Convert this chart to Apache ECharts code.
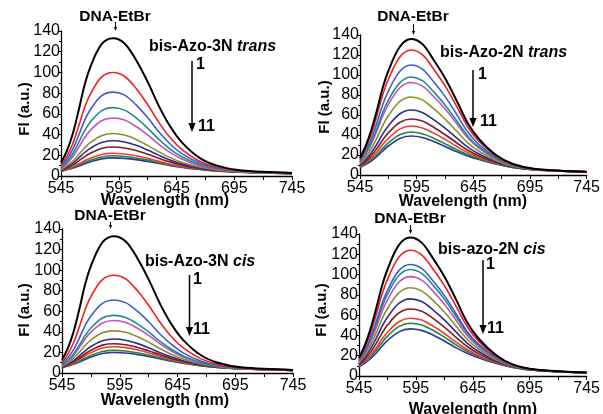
<!DOCTYPE html>
<html>
<head>
<meta charset="utf-8">
<script src="https://cdn.jsdelivr.net/npm/echarts@6/dist/echarts.min.js"></script>
<style>
html,body{margin:0;padding:0;background:#fff;}
#chart{width:603px;height:414px;}
</style>
</head>
<body>
<div id="chart"></div>
<script>
const wavelengths = [545, 550, 555, 560, 565, 570, 580, 590, 600, 610, 620, 630, 640, 650, 665, 680, 700, 745];
const xTicks = [545, 595, 645, 695, 745];
const yTicks = [0, 20, 40, 60, 80, 100, 120, 140];
const panelTitles = ['bis-Azo-3N', 'bis-Azo-2N', 'bis-Azo-3N', 'bis-azo-2N'];
const panelStates = ['trans', 'trans', 'cis', 'cis'];
const xTitle = 'Wavelength (nm)';
const yTitle = 'Fl (a.u.)';
const colors = ['#000000', '#f21f1f', '#3f5ccc', '#1f8c8c', '#c34fc3', '#8e8e2a', '#2e2e8e', '#801e1e', '#f03a3a', '#228a2e', '#2a34a2'];

const azo3nTrans = [
  [13, 24, 40, 62, 86, 104, 127, 133, 128, 112, 91, 67, 47, 32, 17.5, 10, 5.5, 3],
  [10.6, 18.9, 30.7, 47.0, 64.7, 78.1, 95.4, 100, 96.3, 84.5, 69.0, 51.3, 36.4, 25.2, 14.3, 8.5, 5.0, 2.8],
  [9.2, 15.9, 25.4, 38.4, 52.5, 63.3, 77.3, 81, 78.1, 68.7, 56.4, 42.3, 30.4, 21.3, 12.5, 7.7, 4.6, 2.7],
  [8.1, 13.6, 21.2, 31.6, 42.8, 51.5, 62.9, 66, 63.6, 56.2, 46.3, 35.1, 25.5, 18.3, 11.0, 7.0, 4.4, 2.6],
  [7.3, 12.0, 18.3, 27.0, 36.3, 43.6, 53.3, 56, 54.0, 47.8, 39.6, 30.3, 22.3, 16.2, 10.0, 6.5, 4.2, 2.5],
  [6.2, 9.7, 14.1, 20.2, 26.6, 31.9, 38.9, 41, 39.5, 35.3, 29.6, 23.2, 17.5, 13.1, 8.6, 5.9, 4.0, 2.4],
  [5.7, 8.6, 12.1, 17.0, 22.2, 26.4, 32.3, 34, 32.9, 29.6, 25.0, 19.9, 15.3, 11.7, 7.9, 5.5, 3.9, 2.4],
  [5.3, 7.6, 10.5, 14.3, 18.3, 21.7, 26.6, 28, 27.1, 24.6, 21.0, 17.0, 13.4, 10.5, 7.3, 5.3, 3.8, 2.4],
  [4.8, 6.7, 8.8, 11.5, 14.4, 17.0, 20.8, 22, 21.3, 19.6, 17.0, 14.1, 11.4, 9.2, 6.7, 5.0, 3.7, 2.3],
  [4.6, 6.3, 8.1, 10.4, 12.8, 15.0, 18.4, 19.5, 18.9, 17.4, 15.3, 12.9, 10.6, 8.7, 6.5, 4.9, 3.6, 2.3],
  [4.5, 6, 7.5, 9.5, 11.5, 13.5, 16.5, 17.5, 17, 15.8, 14, 12, 10, 8.3, 6.3, 4.8, 3.6, 2.3]
];

const azo2nTrans = [
  [17, 29, 45, 65, 87, 104, 128, 136, 131, 115, 97, 75, 52, 36, 20, 11, 6, 3.3],
  [15.9, 26.9, 41.5, 59.7, 79.9, 95.5, 117.7, 125, 120.4, 105.8, 89.3, 69.2, 48.3, 33.7, 19.0, 10.6, 5.9, 3.3],
  [14.5, 24.0, 36.7, 52.5, 70.1, 83.9, 103.5, 110, 105.9, 93.2, 78.6, 61.2, 43.2, 30.5, 17.6, 10.1, 5.7, 3.2],
  [13.3, 21.7, 32.8, 46.8, 62.3, 74.6, 92.1, 98, 94.3, 83.1, 70.1, 54.8, 39.1, 28.0, 16.5, 9.6, 5.6, 3.2],
  [12.7, 20.7, 31.1, 44.2, 58.8, 70.4, 87.0, 92.5, 89.1, 78.5, 66.3, 51.9, 37.2, 26.8, 16.0, 9.4, 5.6, 3.2],
  [11.3, 17.9, 26.5, 37.2, 49.3, 59.2, 73.3, 78, 75.1, 66.3, 56.0, 44.2, 32.3, 23.7, 14.6, 8.9, 5.4, 3.1],
  [10.0, 15.5, 22.3, 31.0, 40.9, 49.1, 61.0, 65, 62.6, 55.3, 46.9, 37.3, 27.8, 21.0, 13.4, 8.4, 5.3, 3.1],
  [9.2, 13.7, 19.4, 26.6, 35.0, 42.1, 52.5, 56, 53.9, 47.8, 40.5, 32.5, 24.8, 19.1, 12.6, 8.1, 5.2, 3.1],
  [8.5, 12.4, 17.2, 23.3, 30.5, 36.7, 45.9, 49, 47.1, 41.9, 35.6, 28.8, 22.4, 17.6, 11.9, 7.9, 5.1, 3.0],
  [7.9, 11.3, 15.3, 20.4, 26.6, 32.1, 40.3, 43, 41.3, 36.8, 31.3, 25.6, 20.4, 16.3, 11.4, 7.6, 5.0, 3.0],
  [7.5, 10.5, 14, 18.5, 24, 29, 36.5, 39, 37.5, 33.5, 28.5, 23.5, 19, 15.5, 11, 7.5, 5, 3]
];

const azo3nCis = [
  [13, 24, 40, 62, 86, 104, 127, 133, 128, 112, 91, 67, 47, 32, 17.5, 10, 5.5, 3],
  [10.3, 18.2, 29.4, 44.8, 61.5, 74.3, 90.7, 95, 91.5, 80.4, 65.8, 49.1, 35.0, 24.4, 14.0, 8.4, 5.0, 2.9],
  [8.6, 14.5, 22.7, 33.9, 46.0, 55.4, 67.7, 71, 68.4, 60.4, 49.8, 37.7, 27.5, 19.6, 11.7, 7.4, 4.7, 2.8],
  [7.6, 12.2, 18.5, 27.1, 36.4, 43.7, 53.5, 56, 54.0, 48.0, 39.9, 30.7, 22.8, 16.6, 10.3, 6.8, 4.5, 2.7],
  [7.2, 11.4, 17.1, 24.8, 33.1, 39.7, 48.6, 51, 49.2, 43.8, 36.6, 28.3, 21.2, 15.6, 9.9, 6.6, 4.4, 2.7],
  [6.5, 9.9, 14.4, 20.3, 26.7, 32.0, 39.1, 41, 39.6, 35.5, 30.0, 23.6, 18.0, 13.6, 9.0, 6.2, 4.3, 2.7],
  [5.9, 8.7, 12.1, 16.7, 21.6, 25.7, 31.4, 33, 31.9, 28.8, 24.6, 19.8, 15.5, 12.0, 8.2, 5.8, 4.2, 2.6],
  [5.6, 8.0, 10.9, 14.6, 18.7, 22.1, 27.1, 28.5, 27.5, 25.1, 21.6, 17.7, 14.1, 11.1, 7.8, 5.7, 4.1, 2.6],
  [5.4, 7.5, 10.0, 13.3, 16.8, 19.8, 24.3, 25.5, 24.7, 22.6, 19.7, 16.3, 13.1, 10.5, 7.5, 5.5, 4.1, 2.6],
  [5.1, 7.0, 9.1, 11.7, 14.5, 17.1, 20.9, 22, 21.4, 19.7, 17.4, 14.7, 12.0, 9.8, 7.2, 5.4, 4.0, 2.6],
  [5, 6.7, 8.5, 10.8, 13.2, 15.5, 19, 20, 19.4, 18, 16, 13.7, 11.4, 9.4, 7, 5.3, 4, 2.6]
];

const azo2nCis = [
  [18, 30, 46, 66, 88, 105, 129, 136.5, 131.5, 116, 98, 76, 53, 37, 21, 11.5, 6.5, 3.5],
  [16.7, 27.6, 42.0, 60.0, 79.8, 95.3, 117.1, 124, 119.5, 105.5, 89.2, 69.3, 48.8, 34.4, 19.8, 11.1, 6.4, 3.4],
  [15.4, 24.9, 37.5, 53.2, 70.7, 84.4, 103.9, 110, 106.1, 93.8, 79.3, 61.9, 44.0, 31.4, 18.5, 10.6, 6.2, 3.4],
  [14.9, 23.9, 35.9, 50.8, 67.4, 80.5, 99.1, 105, 101.2, 89.6, 75.8, 59.2, 42.3, 30.4, 18.0, 10.5, 6.2, 3.3],
  [14.1, 22.5, 33.6, 47.4, 62.7, 75.0, 92.4, 98, 94.5, 83.7, 70.8, 55.5, 39.9, 28.9, 17.4, 10.2, 6.1, 3.3],
  [13.1, 20.4, 30.1, 42.1, 55.6, 66.5, 82.0, 87, 83.9, 74.5, 63.1, 49.6, 36.2, 26.6, 16.3, 9.9, 6.0, 3.2],
  [12.0, 18.2, 26.5, 36.8, 48.4, 58.0, 71.5, 76, 73.4, 65.3, 55.3, 43.7, 32.5, 24.2, 15.3, 9.5, 5.8, 3.2],
  [11.0, 16.3, 23.3, 31.9, 41.8, 50.2, 62.1, 66, 63.8, 56.9, 48.3, 38.4, 29.1, 22.1, 14.3, 9.2, 5.7, 3.1],
  [10.1, 14.5, 20.4, 27.6, 35.9, 43.2, 53.5, 57, 55.1, 49.3, 41.9, 33.6, 26.1, 20.2, 13.5, 8.9, 5.6, 3.1],
  [9.5, 13.6, 18.8, 25.2, 32.6, 39.3, 48.7, 52, 50.3, 45.1, 38.4, 30.9, 24.4, 19.2, 13.0, 8.7, 5.6, 3.0],
  [9, 12.5, 17, 22.5, 29, 35, 43.5, 46.5, 45, 40.5, 34.5, 28, 22.5, 18, 12.5, 8.5, 5.5, 3]
];

const panels = [azo3nTrans, azo2nTrans, azo3nCis, azo2nCis];

const FONT = '"Liberation Sans", Arial, sans-serif';
const grids = [
  {left: 61, top: 31, width: 231, height: 145},
  {left: 360, top: 35, width: 230, height: 140},
  {left: 62, top: 229, width: 231, height: 144},
  {left: 359, top: 234, width: 232, height: 142}
];

const xAxes = grids.map((g, i) => ({
  type: 'value', gridIndex: i, min: xTicks[0], max: xTicks[xTicks.length - 1], interval: 50,
  axisLine: {lineStyle: {color: '#000', width: 1.3}},
  axisTick: {length: 4, lineStyle: {color: '#000', width: 1}},
  minorTick: {show: true, splitNumber: 2, length: 4, lineStyle: {color: '#000', width: 1}},
  splitLine: {show: false},
  axisLabel: {fontFamily: FONT, fontSize: 16, color: '#000', margin: 5, showMinLabel: true, showMaxLabel: true}
}));

const yAxes = grids.map((g, i) => ({
  type: 'value', gridIndex: i, min: yTicks[0], max: yTicks[yTicks.length - 1], interval: 20,
  axisLine: {show: true, lineStyle: {color: '#000', width: 1.3}},
  axisTick: {show: true, length: 3, lineStyle: {color: '#000', width: 1}},
  minorTick: {show: true, splitNumber: 2, length: 2, lineStyle: {color: '#000', width: 1}},
  splitLine: {show: false},
  axisLabel: {fontFamily: FONT, fontSize: 16, color: '#000', margin: 1}
}));

const series = [];
panels.forEach((curves, p) => {
  curves.forEach((vals, k) => {
    series.push({
      type: 'line', xAxisIndex: p, yAxisIndex: p, smooth: 0.35, symbol: 'none',
      lineStyle: {color: colors[k], width: k === 0 ? 2 : 1.6},
      z: 20 - k,
      data: wavelengths.map((w, j) => [w, vals[j]])
    });
  });
});

function txt(x, y, text, align, size, rot) {
  return {type: 'text', x: x, y: y, rotation: rot || 0, style: {text: text, fill: '#000', font: 'bold ' + (size || 15) + 'px ' + FONT, textAlign: align || 'center', textVerticalAlign: 'middle'}};
}
function titleText(x, y, name, state) {
  return {type: 'text', x: x, y: y, style: {
    text: '{b|' + name + ' }{i|' + state + '}', textAlign: 'left', textVerticalAlign: 'middle',
    rich: {b: {fontFamily: FONT, fontWeight: 'bold', fontSize: 16, fill: '#000', color: '#000'},
           i: {fontFamily: FONT, fontWeight: 'bold', fontStyle: 'italic', fontSize: 16, fill: '#000', color: '#000'}}
  }};
}
function arrow(x, y1, y2, head, w) {
  return [
    {type: 'line', shape: {x1: x, y1: y1, x2: x, y2: y2 - head + 1}, style: {stroke: '#000', lineWidth: w}},
    {type: 'polygon', shape: {points: [[x - head * 0.4, y2 - head], [x + head * 0.4, y2 - head], [x, y2]]}, style: {fill: '#000'}}
  ];
}

const ann = [
  {dna: [115, 17], arr: [115.5, 22, 31], title: [149, 47], big: [192, 61, 132], one: [196, 65], eleven: [198, 127], xt: [165, 201], yt: [25, 109]},
  {dna: [413, 17], arr: [413.5, 24, 35], title: [440, 53], big: [473, 70, 127], one: [478, 75], eleven: [480, 122], xt: [463, 202], yt: [325, 107]},
  {dna: [110, 216], arr: [110.5, 222, 229], title: [145, 262], big: [189.5, 275, 336], one: [193, 280], eleven: [193, 330], xt: [165, 401], yt: [25, 310]},
  {dna: [410, 219], arr: [410.5, 225, 234], title: [438, 250], big: [483, 260, 334], one: [486, 265], eleven: [487, 329], xt: [473, 410], yt: [322, 310]}
];
const graphic = [];
ann.forEach((a, i) => {
  graphic.push(txt(a.dna[0], a.dna[1], 'DNA-EtBr', 'center', 15.5));
  arrow(a.arr[0], a.arr[1], a.arr[2], 4, 1).forEach(g => graphic.push(g));
  graphic.push(titleText(a.title[0], a.title[1], panelTitles[i], panelStates[i]));
  arrow(a.big[0], a.big[1], a.big[2], 9, 1.5).forEach(g => graphic.push(g));
  graphic.push(txt(a.one[0], a.one[1], '1', 'left', 16));
  graphic.push(txt(a.eleven[0], a.eleven[1], '11', 'left', 16));
  graphic.push(txt(a.xt[0], a.xt[1], xTitle, 'center', 16));
  graphic.push(txt(a.yt[0], a.yt[1], yTitle, 'center', 15, Math.PI / 2));
});

const chart = echarts.init(document.getElementById('chart'), null, {renderer: 'canvas'});
chart.setOption({
  animation: false,
  backgroundColor: '#fff',
  grid: grids,
  xAxis: xAxes,
  yAxis: yAxes,
  series: series,
  graphic: graphic
});
</script>
</body>
</html>
